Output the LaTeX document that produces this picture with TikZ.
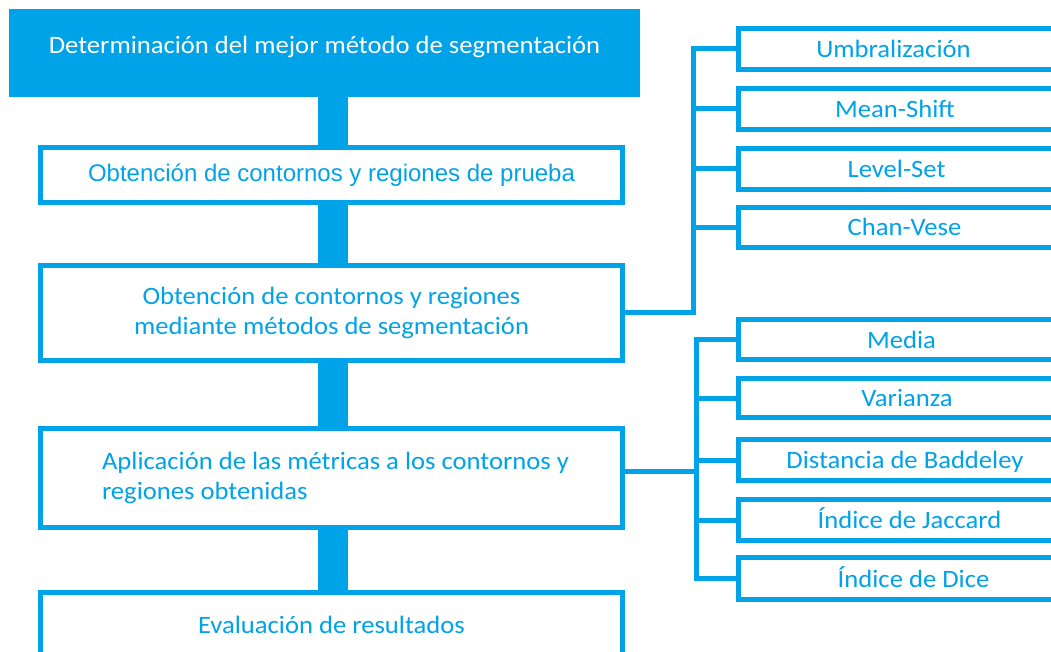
\documentclass[tikz,border=0pt]{standalone}
\usepackage{fontspec}
\setmainfont{Carlito}[FakeStretch=1.065]
\newfontfamily\arialf{Liberation Sans}
\definecolor{azul}{RGB}{0,162,232}
\tikzset{
  every node/.style={inner sep=0pt},
  box/.style={draw=azul, line width=5pt, fill=white, text=azul,
    font=\fontsize{25}{30}\selectfont, align=center},
  lbox/.style={box, minimum width=582pt},
  rbox/.style={box, minimum width=329pt, text height=18pt, text depth=1pt},
  conn/.style={draw=azul, line width=5pt},
  trunk/.style={draw=azul, line width=30pt},
}
\begin{document}
\begin{tikzpicture}[x=1pt,y=-1pt]
\useasboundingbox (0,0) rectangle (1051,652);
\clip (0,0) rectangle (1051,652);
% left column
\node[fill=azul, text=white, minimum width=631pt, minimum height=88pt,
  font=\fontsize{25}{30}\selectfont, text height=10pt, text depth=8pt]
  (b1) at (324.5,53) {Determinación del mejor método de segmentación};
\node[lbox, minimum height=55pt, font=\arialf\fontsize{24}{28}\selectfont,
  text height=16pt, text depth=3pt]
  (b2) at (331.5,175) {Obtención de contornos y regiones de prueba};
\node[lbox, minimum height=95pt] (b3) at (331.5,313)
  {Obtención de contornos y regiones\\mediante métodos de segmentación};
\node[lbox, minimum height=99pt, align=left] (b4) at (331.5,478)
  {\hspace*{8pt}Aplicación de las métricas a los contornos y\\\hspace*{8pt}regiones obtenidas};
\node[lbox, minimum height=70pt, text height=14pt, text depth=3pt]
  (b5) at (331.5,627.5) {Evaluación de resultados};
% trunk
\coordinate (tx) at (333,0);
\draw[trunk] (b1.south -| tx) -- (b2.north -| tx);
\draw[trunk] (b2.south -| tx) -- (b3.north -| tx);
\draw[trunk] (b3.south -| tx) -- (b4.north -| tx);
\draw[trunk] (b4.south -| tx) -- (b5.north -| tx);
% right column, group 1
\node[rbox, minimum height=41pt] (umb) at (903,49) {Umbralización\hspace*{19pt}};
\node[rbox, minimum height=41pt] (mea) at (903,109) {Mean-Shift\hspace*{16pt}};
\node[rbox, minimum height=41pt] (lev) at (903,169) {Level-Set\hspace*{13pt}};
\node[rbox, minimum height=40pt] (cha) at (903,227.5) {\hspace*{3pt}Chan-Vese};
% right column, group 2
\node[rbox, minimum height=40pt] (med) at (903,339.5) {Media\hspace*{3pt}};
\node[rbox, minimum height=39pt] (var) at (903,398) {\hspace*{8pt}Varianza};
\node[rbox, minimum height=41pt] (dis) at (903,460) {\hspace*{4pt}Distancia de Baddeley};
\node[rbox, minimum height=41pt] (jac) at (903,520) {\hspace*{13pt}Índice de Jaccard};
\node[rbox, minimum height=42pt] (dic) at (903,578.5) {\hspace*{21pt}Índice de Dice};
% connectors group 1
\coordinate (j1) at (693.5,312);
\draw[conn] (b3.east |- j1) -- (j1) |- (umb.west);
\foreach \n in {mea,lev,cha} \draw[conn] (j1) |- (\n.west);
% connectors group 2
\coordinate (j2) at (696,471);
\draw[conn] (b4.east |- j2) -- (j2);
\foreach \n in {med,var,dis,jac,dic} \draw[conn] (j2) |- (\n.west);
\end{tikzpicture}
\end{document}
